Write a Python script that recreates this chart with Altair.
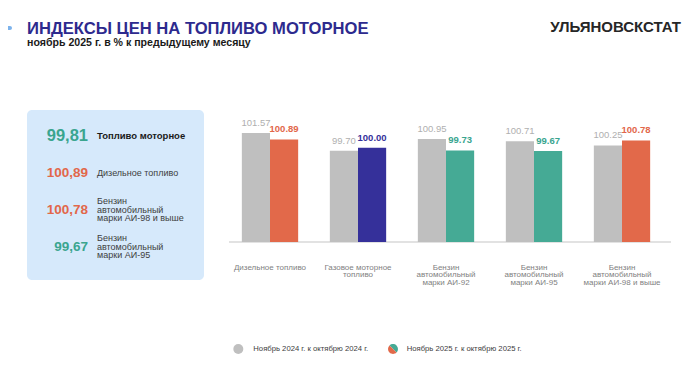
import altair as alt
import pandas as pd

F = "Liberation Sans"

# ---- data ----
categories = [
    "Дизельное топливо",
    "Газовое моторное|топливо",
    "Бензин|автомобильный|марки АИ-92",
    "Бензин|автомобильный|марки АИ-95",
    "Бензин|автомобильный|марки АИ-98 и выше",
]
series = ["Ноябрь 2024 г. к октябрю 2024 г.", "Ноябрь 2025 г. к октябрю 2025 г."]
values_2024 = [101.57, 99.70, 100.95, 100.71, 100.25]
values_2025 = [100.89, 100.00, 99.73, 99.67, 100.78]
colors_2025 = ["#E2694A", "#35309A", "#45AA95", "#45AA95", "#E2694A"]
text_colors_2025 = ["#E2674A", "#35309A", "#3AA58F", "#3AA58F", "#E2674A"]
gray_bar = "#BFBFBF"
gray_text = "#AFAFAF"

panel_values = ["99,81", "100,89", "100,78", "99,67"]
panel_labels = [
    "Топливо моторное",
    "Дизельное топливо",
    "Бензин\nавтомобильный\nмарки АИ-98 и выше",
    "Бензин\nавтомобильный\nмарки АИ-95",
]
panel_colors = ["#3AA58F", "#E2674A", "#E2674A", "#3AA58F"]
panel_sizes = [16.5, 13.5, 13.5, 13.5]

title_text = "ИНДЕКСЫ ЦЕН НА ТОПЛИВО МОТОРНОЕ"
subtitle_text = "ноябрь 2025 г. в % к предыдущему месяцу"
brand_text = "УЛЬЯНОВСКСТАТ"

# ---- tables ----
rows = []
for i, c in enumerate(categories):
    rows.append({"cat": c, "series": series[0], "value": values_2024[i],
                 "color": gray_bar, "tcolor": gray_text, "yr": "2024"})
    rows.append({"cat": c, "series": series[1], "value": values_2025[i],
                 "color": colors_2025[i], "tcolor": text_colors_2025[i], "yr": "2025"})
df = pd.DataFrame(rows)

panel_df = pd.DataFrame({
    "row": list(range(len(panel_values))),
    "val": panel_values,
    "lab": panel_labels,
    "col": panel_colors,
    "fs": panel_sizes,
})

one = pd.DataFrame({"a": [0]})

# ---- bars ----
x_enc = alt.X(
    "cat:N",
    scale=alt.Scale(domain=categories, paddingInner=0.36, paddingOuter=0.18),
    axis=alt.Axis(
        title=None, labelExpr="split(datum.label, '|')", labelAngle=0,
        domain=False, ticks=False, grid=False, labelPadding=21,
        labelFontSize=8, labelColor="#7F7F7F", labelLineHeight=7.5,
        labelFont=F, labelAlign="center",
    ),
)
xo_enc = alt.XOffset("series:N", scale=alt.Scale(domain=series, paddingInner=0))
y_enc = alt.Y("value:Q", scale=alt.Scale(domain=[90, 102], zero=False, nice=False), axis=None)

base = alt.Chart(df)
bars = base.mark_bar().encode(
    x=x_enc, xOffset=xo_enc, y=y_enc, y2=alt.datum(90),
    color=alt.Color("color:N", scale=None),
)
lab24 = base.transform_filter(alt.datum.yr == "2024").mark_text(
    baseline="bottom", dy=-5, font=F, fontSize=9.5
).encode(
    x=x_enc, xOffset=xo_enc, y=y_enc,
    text=alt.Text("value:Q", format=".2f"),
    color=alt.Color("tcolor:N", scale=None),
)
lab25 = base.transform_filter(alt.datum.yr == "2025").mark_text(
    baseline="bottom", dy=-5, font=F, fontSize=9.5, fontWeight="bold"
).encode(
    x=x_enc, xOffset=xo_enc, y=y_enc,
    text=alt.Text("value:Q", format=".2f"),
    color=alt.Color("tcolor:N", scale=None),
)
baseline_rule = alt.Chart(one).mark_rule(color="#D9D9D9", strokeWidth=1.5).encode(
    x=alt.value(3), x2=alt.value(445), y=alt.value(113)
)
bar_layer = alt.layer(bars, lab24, lab25)

# ---- left summary panel ----
box = alt.Chart(one).mark_rect(color="#D6E9FB", cornerRadius=5).encode(
    x=alt.value(-199), x2=alt.value(-22), y=alt.value(-19), y2=alt.value(151)
)
y_panel = alt.Y("row:O", scale=alt.Scale(type="point", domain=[0, 1, 2, 3],
                                        range=[7, 117.5], padding=0), axis=None)
pbase = alt.Chart(panel_df)
pvals = pbase.mark_text(align="right", baseline="middle", font=F, fontWeight="bold").encode(
    x=alt.value(-138), y=y_panel, text="val:N",
    color=alt.Color("col:N", scale=None), size=alt.Size("fs:Q", scale=None),
)
plab_bold = pbase.transform_filter(alt.datum.row == 0).mark_text(
    align="left", baseline="middle", font=F, fontWeight="bold", fontSize=9.5, color="#1A1A1A"
).encode(x=alt.value(-129), y=y_panel, text="lab:N")
plab1 = pbase.transform_filter(alt.datum.row == 1).mark_text(
    align="left", baseline="middle", font=F, fontSize=9, color="#404040"
).encode(x=alt.value(-129), y=y_panel, text="lab:N")
plab_multi = pbase.transform_filter(alt.datum.row > 1).mark_text(
    align="left", baseline="middle", font=F, fontSize=9, lineHeight=8.5,
    lineBreak="\n", color="#404040", dy=-8.5
).encode(x=alt.value(-129), y=y_panel, text="lab:N")
panel_layer = alt.layer(pvals, plab_bold, plab1, plab_multi)

# ---- header ----
dash = alt.Chart(one).mark_rect(color="#7DB3EC", cornerRadius=2).encode(
    x=alt.value(-220), x2=alt.value(-214), y=alt.value(-103), y2=alt.value(-99)
)
title = alt.Chart(one).mark_text(
    text=title_text, align="left", baseline="alphabetic", font=F,
    fontSize=16.6, fontWeight="bold", color="#2D2A8E"
).encode(x=alt.value(-199), y=alt.value(-95.5))
subtitle = alt.Chart(one).mark_text(
    text=subtitle_text, align="left", baseline="alphabetic", font=F,
    fontSize=10.6, fontWeight="bold", color="#1A1A1A"
).encode(x=alt.value(-199), y=alt.value(-83))
brand = alt.Chart(one).mark_text(
    text=brand_text, align="right", baseline="alphabetic", font=F,
    fontSize=15, fontWeight="bold", color="#262626"
).encode(x=alt.value(455), y=alt.value(-97))

# ---- legend ----
leg_c1 = alt.Chart(one).mark_point(shape="circle", filled=True, opacity=1, size=100,
                                   color=gray_bar).encode(x=alt.value(12.3), y=alt.value(220))
leg_c2a = alt.Chart(one).mark_point(
    shape="M -0.7071 -0.7071 A 1 1 0 0 1 0.7071 0.7071 Z", filled=True, opacity=1,
    size=100, color="#45AA95", strokeWidth=0
).encode(x=alt.value(167), y=alt.value(220))
leg_c2b = alt.Chart(one).mark_point(
    shape="M 0.7071 0.7071 A 1 1 0 0 1 -0.7071 -0.7071 Z", filled=True, opacity=1,
    size=100, color="#E2694A", strokeWidth=0
).encode(x=alt.value(167), y=alt.value(220))
leg_t1 = alt.Chart(one).mark_text(
    text=series[0], align="left", baseline="middle", font=F, fontSize=7.7, color="#404040"
).encode(x=alt.value(27.3), y=alt.value(220))
leg_t2 = alt.Chart(one).mark_text(
    text=series[1], align="left", baseline="middle", font=F, fontSize=7.7, color="#404040"
).encode(x=alt.value(180.7), y=alt.value(220))

chart = alt.layer(
    box, dash, title, subtitle, brand, baseline_rule,
    bar_layer, panel_layer,
    leg_c1, leg_c2a, leg_c2b, leg_t1, leg_t2,
).resolve_scale(y="independent", x="independent").properties(
    width=440, height=113,
    autosize=alt.AutoSizeParams(type="none"),
    padding={"left": 218, "top": 121, "right": 26, "bottom": 113},
    background="white",
).configure_view(stroke=None)

chart.save("out.html", embed_options={"renderer": "svg", "actions": False})
